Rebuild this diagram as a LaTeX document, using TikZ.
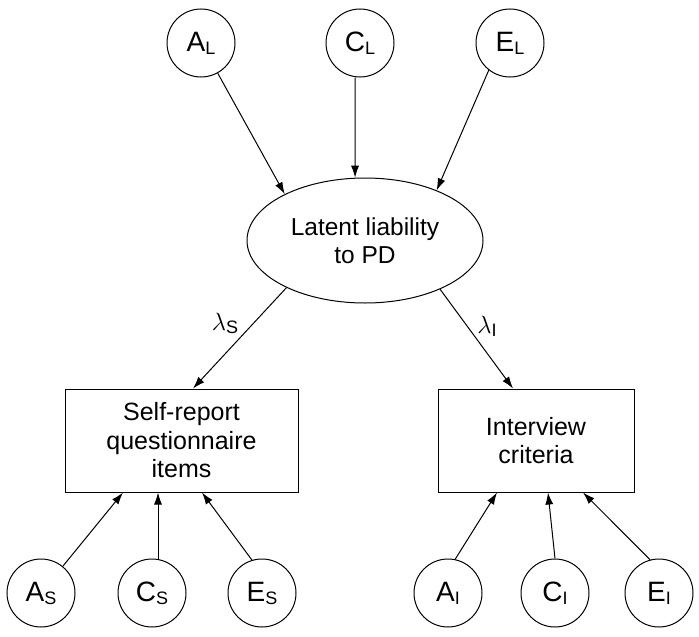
\documentclass[tikz,border=0pt]{standalone}
\usepackage{fontspec}
\setmainfont{Liberation Sans}
\usetikzlibrary{arrows.meta,shapes.geometric}
\newcommand{\clbl}[2]{{\fontsize{28}{30}\selectfont #1}\raisebox{-3pt}{\fontsize{18}{20}\selectfont #2}}
\newcommand{\lamlbl}[1]{{\fontsize{25}{26}\selectfont$\lambda$}\raisebox{-3pt}{\fontsize{18}{20}\selectfont #1}}
\begin{document}
\begin{tikzpicture}[x=1pt,y=-1pt,
  circ/.style={draw, circle, minimum size=68pt, inner sep=0pt, line width=1pt},
  boxnode/.style={draw, rectangle, inner sep=0pt, line width=1pt, align=center,
    minimum height=103pt, font=\fontsize{25}{28.5}\selectfont},
  arr/.style={-{Latex[length=12pt,width=8pt]}, line width=1pt}]
\useasboundingbox (0,0) rectangle (699,637);
% top causes
\node[circ] (AL) at (201,43) {\clbl{A}{L}};
\node[circ] (CL) at (360,43) {\clbl{C}{L}};
\node[circ] (EL) at (510,43) {\clbl{E}{L}};
% latent
\node[draw, ellipse, line width=1pt, minimum width=236pt, minimum height=125pt, inner sep=0pt,
  align=center, font=\fontsize{24.5}{28}\selectfont] (lat) at (365,240.5) {Latent liability\\to PD};
% boxes
\node[boxnode, minimum width=233pt] (sr) at (181.5,440.5) {Self-report\\questionnaire\\items};
\node[boxnode, minimum width=196pt] (iv) at (536,440.5) {Interview\\criteria};
% bottom causes
\node[circ] (AS) at (41,593) {\clbl{A}{S}};
\node[circ] (CS) at (152,593) {\clbl{C}{S}};
\node[circ] (ES) at (262,593) {\clbl{E}{S}};
\node[circ] (AI) at (448,593) {\clbl{A}{I}};
\node[circ] (CI) at (555,593) {\clbl{C}{I}};
\node[circ] (EI) at (659,593) {\clbl{E}{I}};
% arrows into latent
\draw[arr] (AL) -- (lat.150);
\draw[arr] ([xshift=-5pt]CL.south) -- (lat.99);
\draw[arr] (EL.232) -- (lat.35);
% loadings
\draw[arr] (lat.211) -- ([xshift=11.5pt]sr.north);
\draw[arr] (lat.-33) -- ([xshift=-23pt]iv.north);
\node (ls) at (225,323) {\lamlbl{S}};
\node (li) at (487,326) {\lamlbl{I}};
% arrows into measures
\draw[arr] (AS) -- ([xshift=-58.5pt]sr.south);
\draw[arr] ([xshift=6pt]CS.north) -- ([xshift=-23.5pt]sr.south);
\draw[arr] (ES.107) -- ([xshift=20.5pt]sr.south);
\draw[arr] (AI.78) -- ([xshift=-39pt]iv.south);
\draw[arr] (CI.north) -- ([xshift=12pt]iv.south);
\draw[arr] (EI.105) -- ([xshift=47pt]iv.south);
\end{tikzpicture}
\end{document}
